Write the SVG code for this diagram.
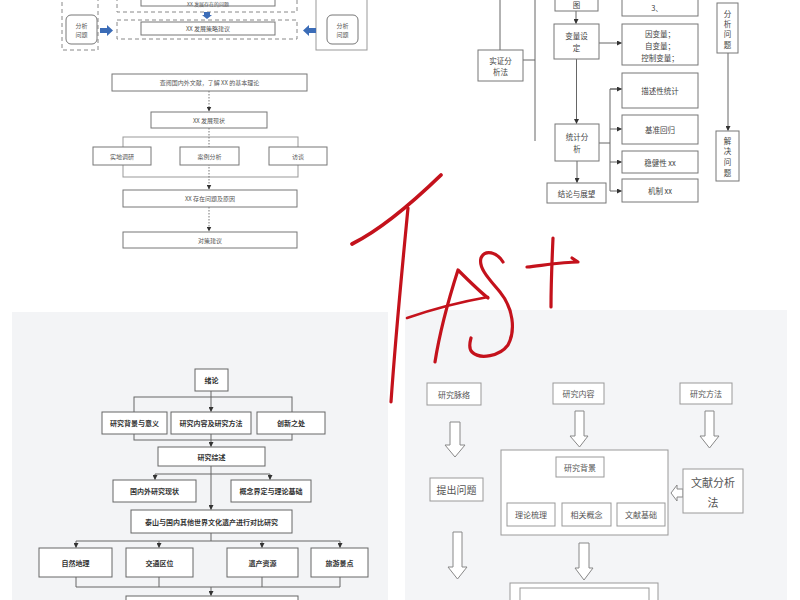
<svg xmlns="http://www.w3.org/2000/svg" width="800" height="600" viewBox="0 0 800 600">
<style>
text{font-family:"Noto Sans CJK SC","Noto Sans",sans-serif;text-anchor:middle;dominant-baseline:central}
.tl rect.b{fill:#fff;stroke:#777;stroke-width:1}
.tl text{font-size:6px;fill:#555}
.dash{fill:none;stroke:#888;stroke-width:1;stroke-dasharray:4 3}
.blue{fill:#3b6cb7}
.tr rect{fill:#fff;stroke:#777;stroke-width:1}
.tr text{font-size:7.5px;fill:#444}
.bl rect{fill:#fff;stroke:#666;stroke-width:1}
.bl text{font-size:7px;fill:#333;font-weight:700}
.br rect{fill:#fff;stroke:#999;stroke-width:1}
.br text{font-size:8px;fill:#555}
.ln{fill:none;stroke:#666;stroke-width:1}
.lnd{fill:none;stroke:#777;stroke-width:1;stroke-dasharray:1.5 1.5}
.hol{fill:#fff;stroke:#888;stroke-width:1}
.red{fill:none;stroke:#c4121c;stroke-width:3.2;stroke-linecap:round;stroke-linejoin:round}
</style>
<defs>
<marker id="ah" markerWidth="5" markerHeight="5" refX="4.5" refY="2.5" orient="auto" markerUnits="userSpaceOnUse"><path d="M0,0 L5,2.5 L0,5 z" fill="#333"/></marker>
</defs>
<rect width="800" height="600" fill="#fff"/>
<rect x="12" y="312" width="376" height="288" fill="#f3f4f6"/>
<rect x="405" y="310" width="382" height="290" fill="#f4f5f7"/>

<!-- top-left small panel -->
<g class="tl" id="tl-top">
  <rect class="dash" x="62" y="-2" width="36" height="52"/>
  <g id="tl-analyze-left"><rect class="b" x="66" y="15" width="31" height="29" rx="5"/><text x="81.5" y="25">分析</text><text x="81.5" y="34">问题</text></g>
  <rect class="dash" x="117" y="-2" width="180" height="14"/>
  <g id="tl-problem"><rect class="b" x="141" y="-2" width="134" height="8"/><text x="208" y="3.2" style="font-size:5px">XX 发展存在的问题</text></g>
  <rect class="dash" x="117" y="20" width="180" height="19"/>
  <g id="tl-strategy"><rect class="b" x="141" y="22" width="134" height="13"/><text x="208" y="28.5">XX 发展策略建议</text></g>
  <rect x="316" y="-2" width="51" height="52" fill="#fff" stroke="#999"/>
  <g id="tl-analyze-right"><rect class="b" x="327" y="15" width="31" height="29" rx="5"/><text x="342.5" y="25">分析</text><text x="342.5" y="34">问题</text></g>
  <polygon class="blue" points="100,28 107,28 107,25 113,30.5 107,36 107,33 100,33"/>
  <polygon class="blue" points="316,28 309,28 309,25 303,30.5 309,36 309,33 316,33"/>
  <polygon class="blue" points="204,12 210,12 210,15 212,15 207,19 202,15 204,15"/>
</g>

<!-- top-left flowchart -->
<g id="tl-connectors">
  <rect x="123" y="137" width="175" height="40" fill="none" stroke="#999" stroke-width="1"/>
  <line class="lnd" x1="209" y1="91" x2="209" y2="111" marker-end="url(#ah)"/>
  <line class="lnd" x1="209" y1="128" x2="209" y2="189" marker-end="url(#ah)"/>
  <line class="lnd" x1="209" y1="207" x2="209" y2="231" marker-end="url(#ah)"/>
</g>
<g class="tl">
  <g id="tl-n1"><rect class="b" x="112" y="74" width="195" height="17"/><text x="209.5" y="82.5">查阅国内外文献，了解 XX 的基本理论</text></g>
  <g id="tl-n2"><rect class="b" x="151" y="112" width="116" height="16"/><text x="209" y="120">XX 发展现状</text></g>
  <g id="tl-n3"><rect class="b" x="93" y="147" width="58" height="18"/><text x="122" y="156">实地调研</text></g>
  <g id="tl-n4"><rect class="b" x="180" y="147" width="59" height="18"/><text x="209.5" y="156">案例分析</text></g>
  <g id="tl-n5"><rect class="b" x="269" y="147" width="58" height="18"/><text x="298" y="156">访谈</text></g>
  <g id="tl-n6"><rect class="b" x="123" y="190" width="174" height="17"/><text x="210" y="198.5">XX 存在问题及原因</text></g>
  <g id="tl-n7"><rect class="b" x="123" y="232" width="174" height="16"/><text x="210" y="240">对策建议</text></g>
</g>

<!-- top-right flowchart -->
<g id="tr-connectors">
  <line class="ln" x1="500" y1="-2" x2="500" y2="50"/>
  <polyline class="ln" points="523,60 535,60"/>
  <polyline class="ln" points="535,-2 535,141 Q535,143 538,143 545,143"/>
  <line class="ln" x1="576" y1="11" x2="576" y2="23.5" marker-end="url(#ah)"/>
  <line class="ln" x1="599" y1="43" x2="621.5" y2="43" marker-end="url(#ah)"/>
  <line class="ln" x1="576.5" y1="59" x2="576.5" y2="123.5" marker-end="url(#ah)"/>
  <line class="ln" x1="599" y1="143" x2="610" y2="143"/>
  <polyline class="ln" points="621.5,89 610,89 610,191 621.5,191" marker-end="url(#ah)"/>
  <line class="ln" x1="610" y1="89" x2="621.5" y2="89" marker-end="url(#ah)"/>
  <line class="ln" x1="610" y1="129" x2="621.5" y2="129" marker-end="url(#ah)"/>
  <line class="ln" x1="610" y1="162" x2="621.5" y2="162" marker-end="url(#ah)"/>
  <line class="ln" x1="577" y1="161" x2="577" y2="182.5" marker-end="url(#ah)"/>
  <line class="ln" x1="728" y1="53" x2="728" y2="130.5" marker-end="url(#ah)"/>
</g>
<g class="tr">
  <g id="tr-top"><rect x="555" y="-2" width="43" height="13"/><text x="576.5" y="4">图</text></g>
  <g id="tr-3"><rect x="622" y="-2" width="76" height="18"/><text x="657" y="7">3、</text></g>
  <g id="tr-method"><rect x="478" y="50" width="45" height="31"/><text x="500.5" y="60">实证分</text><text x="500.5" y="71">析法</text></g>
  <g id="tr-var"><rect x="554" y="24" width="45" height="35"/><text x="576.5" y="35">变量设</text><text x="576.5" y="47">定</text></g>
  <g id="tr-vars"><rect x="622" y="24" width="76" height="41"/><text x="660" y="33">因变量；</text><text x="660" y="45">自变量；</text><text x="660" y="57">控制变量；</text></g>
  <g id="tr-desc"><rect x="622" y="73" width="76" height="35"/><text x="660" y="90.5">描述性统计</text></g>
  <g id="tr-base"><rect x="622" y="115" width="76" height="29"/><text x="660" y="129.5">基准回归</text></g>
  <g id="tr-robust"><rect x="622" y="151" width="76" height="22"/><text x="660" y="162">稳健性 xx</text></g>
  <g id="tr-mech"><rect x="622" y="179" width="76" height="23"/><text x="660" y="190.5">机制 xx</text></g>
  <g id="tr-stat"><rect x="555" y="124" width="44" height="37"/><text x="577" y="136">统计分</text><text x="577" y="148">析</text></g>
  <g id="tr-concl"><rect x="547" y="183" width="59" height="20"/><text x="576.5" y="193">结论与展望</text></g>
  <g id="tr-analyze"><rect x="717" y="3" width="21" height="50"/><text x="727.5" y="13">分</text><text x="727.5" y="23">析</text><text x="727.5" y="33">问</text><text x="727.5" y="44">题</text></g>
  <g id="tr-solve"><rect x="716" y="131" width="23" height="50"/><text x="727.5" y="140">解</text><text x="727.5" y="150">决</text><text x="727.5" y="161">问</text><text x="727.5" y="172">题</text></g>
</g>

<!-- bottom-left flowchart -->
<g id="bl-connectors">
  <rect x="134" y="397" width="158" height="43" fill="none" stroke="#666" stroke-width="1"/>
  <line class="ln" x1="211" y1="391" x2="211" y2="411.5" marker-end="url(#ah)"/>
  <line class="ln" x1="211" y1="434" x2="211" y2="446.5" marker-end="url(#ah)"/>
  <line class="ln" x1="211" y1="466" x2="211" y2="509.5" marker-end="url(#ah)"/>
  <line class="ln" x1="155" y1="474" x2="270" y2="474"/>
  <line class="ln" x1="155" y1="474" x2="155" y2="479.5" marker-end="url(#ah)"/>
  <line class="ln" x1="270" y1="474" x2="270" y2="479.5" marker-end="url(#ah)"/>
  <line class="ln" x1="211" y1="533" x2="211" y2="541"/>
  <line class="ln" x1="76" y1="541" x2="340" y2="541"/>
  <line class="ln" x1="76" y1="541" x2="76" y2="547.5" marker-end="url(#ah)"/>
  <line class="ln" x1="159" y1="541" x2="159" y2="547.5" marker-end="url(#ah)"/>
  <line class="ln" x1="262" y1="541" x2="262" y2="547.5" marker-end="url(#ah)"/>
  <line class="ln" x1="340" y1="541" x2="340" y2="547.5" marker-end="url(#ah)"/>
  <polyline class="ln" points="76,577 76,587 340,587 340,577"/>
  <line class="ln" x1="159" y1="577" x2="159" y2="587"/>
  <line class="ln" x1="262" y1="577" x2="262" y2="587"/>
  <line class="ln" x1="211" y1="587" x2="211" y2="595.5" marker-end="url(#ah)"/>
</g>
<g class="bl">
  <g id="bl-intro"><rect x="195" y="369" width="33" height="22"/><text x="211.5" y="380">绪论</text></g>
  <g id="bl-bg"><rect x="102" y="412" width="65" height="22"/><text x="134.5" y="423">研究背景与意义</text></g>
  <g id="bl-content"><rect x="171" y="412" width="80" height="22"/><text x="211" y="423">研究内容及研究方法</text></g>
  <g id="bl-innov"><rect x="257" y="412" width="68" height="22"/><text x="291" y="423">创新之处</text></g>
  <g id="bl-review"><rect x="158" y="447" width="107" height="19"/><text x="211.5" y="456.5">研究综述</text></g>
  <g id="bl-domestic"><rect x="113" y="480" width="83" height="22"/><text x="154.5" y="491">国内外研究现状</text></g>
  <g id="bl-concept"><rect x="231" y="480" width="80" height="22"/><text x="271" y="491">概念界定与理论基础</text></g>
  <g id="bl-compare"><rect x="131" y="510" width="161" height="23"/><text x="211.5" y="521.5">泰山与国内其他世界文化遗产进行对比研究</text></g>
  <g id="bl-geo"><rect x="39" y="548" width="73" height="29"/><text x="75.5" y="562.5">自然地理</text></g>
  <g id="bl-traffic"><rect x="126" y="548" width="67" height="29"/><text x="159.5" y="562.5">交通区位</text></g>
  <g id="bl-heritage"><rect x="227" y="548" width="71" height="29"/><text x="262.5" y="562.5">遗产资源</text></g>
  <g id="bl-tour"><rect x="311" y="548" width="57" height="29"/><text x="339.5" y="562.5">旅游景点</text></g>
  <g id="bl-next"><rect x="126" y="596" width="172" height="10"/></g>
</g>

<!-- bottom-right flowchart -->
<g id="br-connectors">
  <path class="hol" d="M450,422 H460 V445 H465 L455,457 L445,445 H450 Z"/>
  <path class="hol" d="M575,411 H584 V436 H588 L579.5,447 L570,436 H575 Z"/>
  <path class="hol" d="M705,411 H714 V436 H719 L709.5,448 L700,436 H705 Z"/>
  <path class="hol" d="M453,532 H462 V567 H467 L457.5,579 L448,567 H453 Z"/>
  <path class="hol" d="M579,543 H589 V568 H593 L584,580 L575,568 H579 Z"/>
  <path class="hol" d="M683,489 H677 V485 L671,493 L677,501 V497 H683 Z"/>
</g>
<g class="br">
  <g id="br-thread"><rect x="427" y="383" width="54" height="22"/><text x="454" y="394">研究脉络</text></g>
  <g id="br-content"><rect x="553" y="383" width="51" height="21"/><text x="578.5" y="393.5">研究内容</text></g>
  <g id="br-method"><rect x="680" y="383" width="52" height="21"/><text x="706" y="393.5">研究方法</text></g>
  <g id="br-question"><rect x="430" y="478" width="53" height="23"/><text x="456.5" y="489.5" style="font-size:10px">提出问题</text></g>
  <g id="br-big"><rect x="501" y="450" width="167" height="85" fill="none"/></g>
  <g id="br-bg"><rect x="556" y="457" width="48" height="20"/><text x="580" y="467">研究背景</text></g>
  <g id="br-theory"><rect x="507" y="503" width="48" height="23"/><text x="531" y="514.5">理论梳理</text></g>
  <g id="br-concept"><rect x="562" y="503" width="49" height="23"/><text x="586.5" y="514.5">相关概念</text></g>
  <g id="br-lit"><rect x="617" y="503" width="48" height="23"/><text x="641" y="514.5">文献基础</text></g>
  <g id="br-litmethod"><rect x="683" y="469" width="60" height="44"/><text x="713" y="482" style="font-size:11px">文献分析</text><text x="713" y="502" style="font-size:11px">法</text></g>
  <g id="br-bottom"><rect x="510" y="583" width="148" height="25"/><rect x="520" y="588" width="129" height="20"/></g>
</g>

<!-- red handwriting -->
<g id="handwriting">
  <path class="red" d="M352,244 C380,230 410,205 441,175" style="stroke-width:3.8"/>
  <path class="red" d="M408,208 C403,260 396,330 391,402"/>
  <path class="red" d="M435,362 C440,330 450,295 458,270 C468,280 478,290 488,298"/>
  <path class="red" d="M407,318 C430,310 460,302 488,297" style="stroke-width:2.6"/>
  <path class="red" d="M503,262 C497,252 485,249 481,258 C478,268 490,280 500,292 C513,308 516,330 508,345 C500,356 480,360 472,352 C468,348 470,342 471,338"/>
  <path class="red" d="M527,267 C545,265 565,262 578,262 L572,258"/>
  <path class="red" d="M553,238 C552,260 551,285 551,307"/>
</g>
</svg>
